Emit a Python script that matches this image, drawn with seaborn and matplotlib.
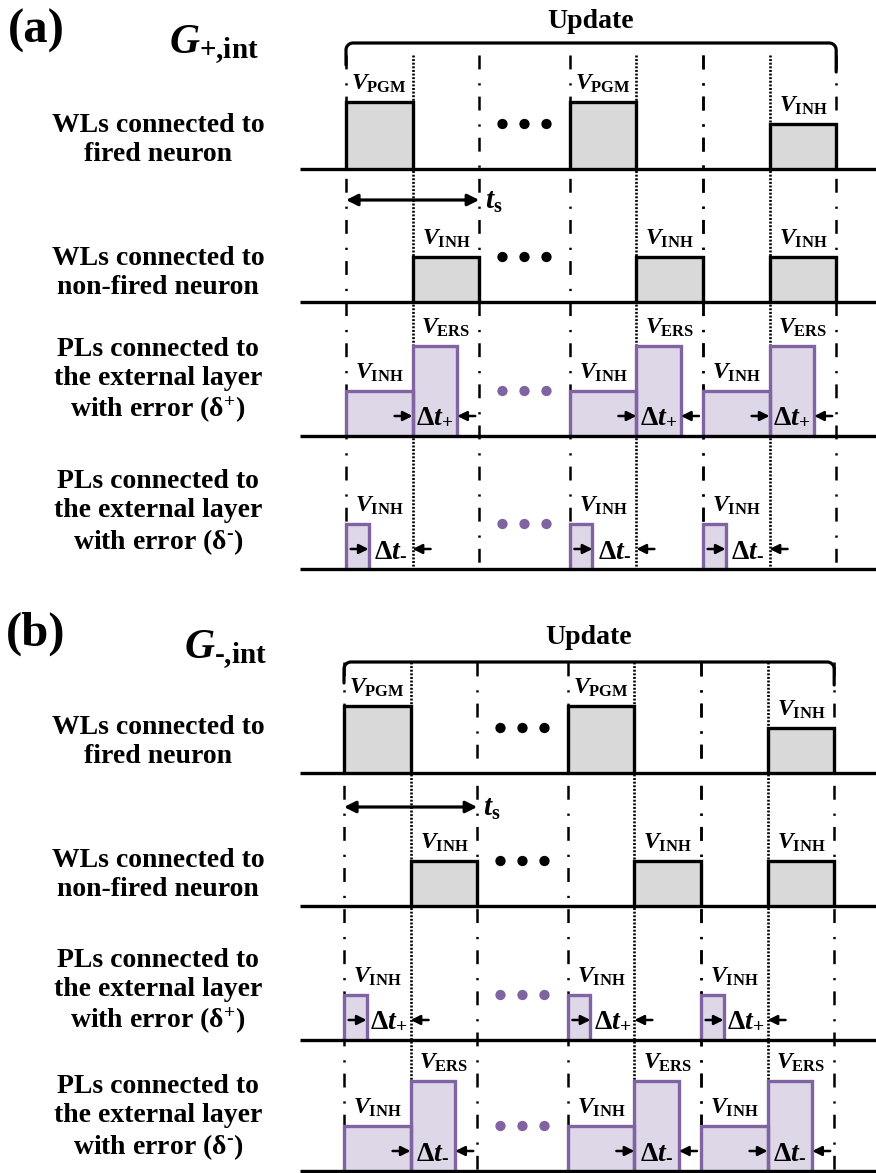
import numpy as np
import matplotlib
matplotlib.use("Agg")
import matplotlib.pyplot as plt
import seaborn as sns

# ---------------- data ----------------
CYCLE_STARTS = [0.0, 3.36, 5.36]       # start of each shown update cycle (time slots)
CYCLE_LEN = 2.0                         # one cycle = two half slots
LEVELS = {"INH": 1.0, "PGM": 1.5, "ERS": 2.0}   # relative voltage levels
DT_PLUS = 0.67
DT_MINUS = 0.66

# pulses: (cycle index, offset in cycle, width, level)
WL_FIRED = [(0, 0.0, 1.0, "PGM"), (1, 0.0, 1.0, "PGM"), (2, 1.0, 1.0, "INH")]
WL_NONFIRED = [(0, 1.0, 1.0, "INH"), (1, 1.0, 1.0, "INH"), (2, 1.0, 1.0, "INH")]
PL_ERASE = [(0, 0.0, 1.0, "INH"), (0, 1.0, DT_PLUS, "ERS"),
            (1, 0.0, 1.0, "INH"), (1, 1.0, DT_PLUS, "ERS"),
            (2, 0.0, 1.0, "INH"), (2, 1.0, DT_PLUS, "ERS")]
PL_SHORT = [(0, 0.0, 1.0 - DT_MINUS, "INH"), (1, 0.0, 1.0 - DT_MINUS, "INH"),
            (2, 0.0, 1.0 - DT_MINUS, "INH")]

ROW_LABELS = [
    "WLs connected to\nfired neuron",
    "WLs connected to\nnon-fired neuron",
    "PLs connected to\nthe external layer\nwith error (δ$^{+}$)",
    "PLs connected to\nthe external layer\nwith error (δ$^{\\text{-}}$)",
]
PANEL_TAGS = ["(a)", "(b)"]
PANEL_TITLES = [r"$G_{+{,}\mathrm{int}}$", r"$G_{\text{-}{,}\mathrm{int}}$"]
DT_TEXT_PLUS = r"$\mathbf{\Delta}t_{+}$"
DT_TEXT_MINUS = r"$\mathbf{\Delta}t_{\text{-}}$"

# rows per panel: (pulses, colour kind, delta-t gap, delta-t label)
PANEL_ROWS = [
    [(WL_FIRED, "gray", None, None),
     (WL_NONFIRED, "gray", None, None),
     (PL_ERASE, "purple", (1.0, 1.0 + DT_PLUS), DT_TEXT_PLUS),
     (PL_SHORT, "purple", (1.0 - DT_MINUS, 1.0), DT_TEXT_MINUS)],
    [(WL_FIRED, "gray", None, None),
     (WL_NONFIRED, "gray", None, None),
     (PL_SHORT, "purple", (1.0 - DT_MINUS, 1.0), DT_TEXT_PLUS),
     (PL_ERASE, "purple", (1.0, 1.0 + DT_PLUS), DT_TEXT_MINUS)],
]

# ---------------- layout (pixels) ----------------
W, H = 876, 1173
SLOT = 66.6
LEVEL_PX = 45
PANELS = [
    dict(x0=346, tag_y=31, title_xy=(169, 45), update_y=22, bracket_y=43,
         bracket_ends=(65, 72), vtop=55, bases=[169, 302, 436, 569], ts_y=200,
         label_y=[140, 273, 381, 513]),
    dict(x0=344, tag_y=634, title_xy=(184, 650), update_y=637, bracket_y=662,
         bracket_ends=(683, 685), vtop=662, bases=[773, 906, 1040, 1171], ts_y=807,
         label_y=[742, 875, 992, 1118]),
]

COL = {"gray": ("#d9d9d9", "black"), "purple": ("#ded7e8", "#8064a2")}
DOT_COL = {"gray": "black", "purple": "#8064a2"}

sns.set_theme(style="white")
plt.rcParams["font.family"] = ["Liberation Serif", "DejaVu Serif"]
plt.rcParams["font.weight"] = "bold"
plt.rcParams["text.color"] = "black"
plt.rcParams["mathtext.fontset"] = "custom"
plt.rcParams["mathtext.rm"] = "Liberation Serif:bold"
plt.rcParams["mathtext.it"] = "Liberation Serif:italic:bold"
plt.rcParams["mathtext.bf"] = "Liberation Serif:bold"
plt.rcParams["lines.scale_dashes"] = False

fig = plt.figure(figsize=(W / 100, H / 100), dpi=100)
ax = fig.add_axes([0, 0, 1, 1])

DASHDOT = (0, (10, 10, 1.6, 8))
DOTTED = (0, (1.4, 1.2))

ARROW = dict(arrowstyle="-|>", color="black", lw=1.8, mutation_scale=14,
             shrinkA=0, shrinkB=0)

for p, P in enumerate(PANELS):
    X = lambda t, P=P: P["x0"] + t * SLOT
    bottom = P["bases"][-1]

    # panel tag and title
    ax.text(36, P["tag_y"], PANEL_TAGS[p], fontsize=35, fontweight="bold",
            ha="center", va="center")
    ax.text(P["title_xy"][0], P["title_xy"][1], PANEL_TITLES[p], fontsize=30,
            ha="left", va="center")

    # Update bracket
    xl, xr = X(CYCLE_STARTS[0]), X(CYCLE_STARTS[-1] + CYCLE_LEN)
    yb = P["bracket_y"]
    r = 7
    a1 = np.linspace(np.pi, 1.5 * np.pi, 12)
    a2 = np.linspace(1.5 * np.pi, 2 * np.pi, 12)
    bx = np.concatenate([[xl], xl + r + r * np.cos(a1), xr - r + r * np.cos(a2), [xr]])
    by = np.concatenate([[P["bracket_ends"][0]], yb + r + r * np.sin(a1),
                         yb + r + r * np.sin(a2), [P["bracket_ends"][1]]])
    ax.plot(bx, by, color="black", lw=2.3, zorder=4)
    ax.text((xl + xr) / 2 - 0.5, P["update_y"], "Update", fontsize=20,
            fontweight="bold", ha="center", va="center")

    # vertical timing guides
    bounds = sorted(set([c for c in CYCLE_STARTS] + [c + CYCLE_LEN for c in CYCLE_STARTS]))
    for t in bounds:
        ax.plot([X(t), X(t)], [P["vtop"], bottom], color="black", lw=1.8,
                linestyle=DASHDOT, zorder=1)
    for c in CYCLE_STARTS:
        t = c + CYCLE_LEN / 2
        ax.plot([X(t), X(t)], [P["vtop"], bottom], color="black", lw=1.9,
                linestyle=DOTTED, zorder=1)

    # ts arrow
    ax.annotate("", xy=(X(CYCLE_LEN), P["ts_y"]), xytext=(X(0), P["ts_y"]),
                arrowprops=dict(arrowstyle="<|-|>", color="black", lw=2.3,
                                mutation_scale=17, shrinkA=0, shrinkB=0), zorder=5)
    ax.text(X(CYCLE_LEN) + 6, P["ts_y"] + 2, r"$t_{\mathrm{s}}$", fontsize=21,
            ha="left", va="center")

    for i, (pulses, kind, gap, dtlab) in enumerate(PANEL_ROWS[p]):
        base = P["bases"][i]
        fillc, edgec = COL[kind]
        ax.text(158, P["label_y"][i], ROW_LABELS[i], fontsize=20, fontweight="bold",
                ha="center", va="center", multialignment="center", linespacing=1.18)
        # baseline
        ax.plot([300, W], [base, base], color="black", lw=2.4, zorder=4,
                solid_capstyle="butt")
        for (c, off, w, lev) in pulses:
            t0 = CYCLE_STARTS[c] + off
            x0, x1 = X(t0), X(t0 + w)
            ytop = base - LEVELS[lev] * LEVEL_PX
            ax.fill_between([x0, x1], [base, base], [ytop, ytop], color=fillc,
                            lw=0, zorder=2)
            sns.lineplot(x=[x0, x0, x1, x1], y=[base, ytop, ytop, base], sort=False,
                         estimator=None, color=edgec, lw=2.4, ax=ax, zorder=3,
                         solid_joinstyle="miter")
            lx = X(t0 + max(w, 1.0) / 2)
            ax.text(lx, ytop - 12, r"$V_{\mathrm{%s}}$" % lev, fontsize=17,
                    ha="center", va="baseline", zorder=5)
        # continuation dots
        dx = X((CYCLE_STARTS[0] + CYCLE_LEN + CYCLE_STARTS[1]) / 2)
        sns.scatterplot(x=[dx - 22, dx, dx + 22], y=[base - LEVELS["INH"] * LEVEL_PX] * 3,
                        color=DOT_COL[kind], s=55, edgecolor="none", ax=ax, zorder=5)
        # delta t annotations
        if gap is not None:
            ya = base - 20
            for c in CYCLE_STARTS:
                g0, g1 = X(c + gap[0]), X(c + gap[1])
                ax.annotate("", xy=(g0, ya), xytext=(g0 - 18, ya), arrowprops=ARROW,
                            zorder=5)
                ax.annotate("", xy=(g1, ya), xytext=(g1 + 18, ya), arrowprops=ARROW,
                            zorder=5)
                ax.text((g0 + g1) / 2, base - 13, dtlab, fontsize=20,
                        ha="center", va="baseline", zorder=5)

ax.set_xlim(0, W)
ax.set_ylim(H, 0)
ax.axis("off")
fig.savefig("out.png", dpi=100, facecolor="white")
